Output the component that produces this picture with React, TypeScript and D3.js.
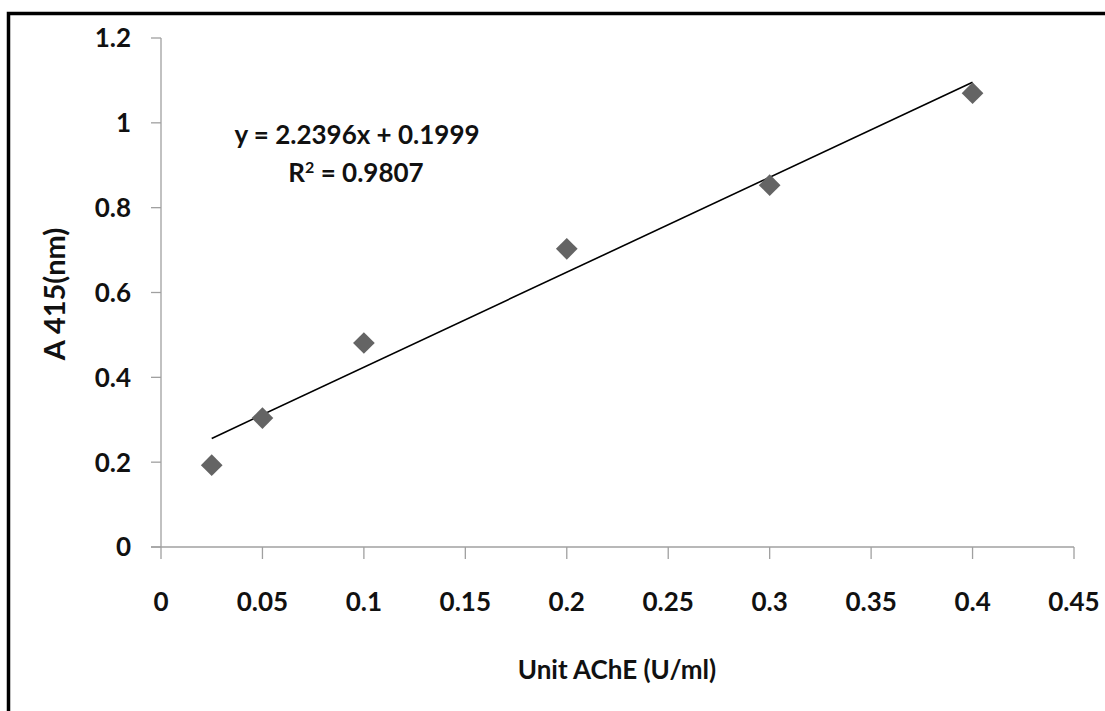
import React from "react";
import * as d3 from "d3";

const xValues = [0.025, 0.05, 0.1, 0.2, 0.3, 0.4];
const yValues = [0.193, 0.304, 0.481, 0.703, 0.853, 1.07];
const xTicks = [0, 0.05, 0.1, 0.15, 0.2, 0.25, 0.3, 0.35, 0.4, 0.45];
const yTicks = [0, 0.2, 0.4, 0.6, 0.8, 1, 1.2];
const slope = 2.2396;
const intercept = 0.1999;
const r2 = 0.9807;
const xTitle = "Unit AChE (U/ml)";
const yTitle = "A 415(nm)";

const W = 1105;
const H = 711;
const FONT = "Lato, 'Open Sans', sans-serif";

export default function App() {
  const x = d3.scaleLinear().domain([0, 0.45]).range([161, 1074]);
  const y = d3.scaleLinear().domain([0, 1.2]).range([547, 38]);
  const fmt = (v: number) => String(+v.toFixed(2));
  const xMin = d3.min(xValues) as number;
  const xMax = d3.max(xValues) as number;
  const trend = d3
    .line<number>()
    .x((d) => x(d))
    .y((d) => y(slope * d + intercept));
  const diamond = d3.symbol().type(d3.symbolDiamond2).size(300)();
  const axisColor = "#a0a0a0";
  const W8 = 700;

  return (
    <svg
      width={W}
      height={H}
      style={{ position: "absolute", left: 0, top: 0, background: "#fff" }}
      fontFamily={FONT}
    >
      <rect x={0} y={0} width={W} height={H} fill="#fff" />
      {/* outer frame (left & top visible) */}
      <path d={`M8.5,${H + 5} L8.5,13.5 L${W + 5},13.5`} fill="none" stroke="#000" strokeWidth={3.5} />

      {/* y axis */}
      <line x1={x(0)} x2={x(0)} y1={y(1.2)} y2={y(0)} stroke={axisColor} strokeWidth={1.3} />
      {yTicks.map((t) => (
        <g key={"y" + t}>
          <line x1={x(0) - 10} x2={x(0)} y1={y(t)} y2={y(t)} stroke={axisColor} strokeWidth={1.3} />
          <text
            x={131}
            y={y(t)}
            dy="0.36em"
            textAnchor="end"
            fontSize={26}
            fontWeight={W8}
            fill="#111"
          >
            {fmt(t)}
          </text>
        </g>
      ))}

      {/* x axis */}
      <line x1={x(0) - 10} x2={x(0.45)} y1={y(0)} y2={y(0)} stroke={axisColor} strokeWidth={1.3} />
      {xTicks.map((t) => (
        <g key={"x" + t}>
          <line x1={x(t)} x2={x(t)} y1={y(0)} y2={y(0) + 12} stroke={axisColor} strokeWidth={1.3} />
          <text
            x={x(t)}
            y={611}
            textAnchor="middle"
            fontSize={26}
            fontWeight={W8}
            fill="#111"
          >
            {fmt(t)}
          </text>
        </g>
      ))}

      {/* trend line */}
      <path d={trend([xMin, xMax]) || ""} fill="none" stroke="#000" strokeWidth={1.6} />

      {/* points */}
      {xValues.map((v, i) => (
        <path
          key={"p" + i}
          d={diamond || ""}
          transform={`translate(${x(v)},${y(yValues[i])})`}
          fill="#646464"
        />
      ))}

      {/* equation */}
      <text x={357} y={135} dy="0.36em" textAnchor="middle" fontSize={26} fontWeight={W8} fill="#111">
        {`y = ${slope}x + ${intercept}`}
      </text>
      <text x={356} y={173} dy="0.36em" textAnchor="middle" fontSize={26} fontWeight={W8} fill="#111">
        R<tspan baselineShift="super" fontSize={16}>2</tspan>
        {` = ${r2}`}
      </text>

      {/* axis titles */}
      <text x={617} y={670} dy="0.36em" textAnchor="middle" fontSize={26} fontWeight={W8} fill="#111">
        {xTitle}
      </text>
      <text
        transform={`translate(55,294) rotate(-90)`}
        dy="0.36em"
        textAnchor="middle"
        fontSize={29}
        fontWeight={W8}
        fill="#111"
      >
        {yTitle}
      </text>
    </svg>
  );
}
